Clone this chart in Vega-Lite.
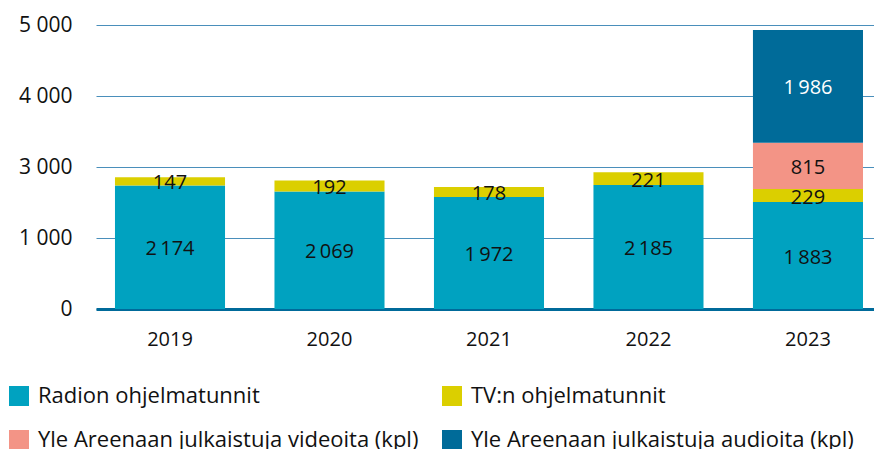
{
  "$schema": "https://vega.github.io/schema/vega-lite/v6.json",
  "width": 778,
  "height": 284,
  "autosize": {"type": "none"},
  "padding": {"left": 96, "top": 25, "right": 0, "bottom": 140},
  "background": "white",
  "config": {
    "font": "Open Sans",
    "view": {"stroke": null},
    "locale": {"number": {"decimal": ",", "thousands": "\u2009", "grouping": [3], "currency": ["", " €"]}}
  },
  "data": {
    "values": [
      {"year": "2019", "series": "Radion ohjelmatunnit", "k": 1, "value": 2174},
      {"year": "2019", "series": "TV:n ohjelmatunnit", "k": 2, "value": 147},
      {"year": "2020", "series": "Radion ohjelmatunnit", "k": 1, "value": 2069},
      {"year": "2020", "series": "TV:n ohjelmatunnit", "k": 2, "value": 192},
      {"year": "2021", "series": "Radion ohjelmatunnit", "k": 1, "value": 1972},
      {"year": "2021", "series": "TV:n ohjelmatunnit", "k": 2, "value": 178},
      {"year": "2022", "series": "Radion ohjelmatunnit", "k": 1, "value": 2185},
      {"year": "2022", "series": "TV:n ohjelmatunnit", "k": 2, "value": 221},
      {"year": "2023", "series": "Radion ohjelmatunnit", "k": 1, "value": 1883},
      {"year": "2023", "series": "TV:n ohjelmatunnit", "k": 2, "value": 229},
      {"year": "2023", "series": "Yle Areenaan julkaistuja videoita (kpl)", "k": 3, "value": 815},
      {"year": "2023", "series": "Yle Areenaan julkaistuja audioita (kpl)", "k": 4, "value": 1986}
    ]
  },
  "encoding": {
    "x": {
      "field": "year", "type": "nominal", "title": null,
      "scale": {"paddingInner": 0.31, "paddingOuter": 0.094, "align": 0.633},
      "axis": {"labelAngle": 0, "labelFontSize": 20, "labelColor": "#111", "labelPadding": 20, "ticks": false, "domainColor": "#006a9a", "domainWidth": 3}
    }
  },
  "layer": [
    {
      "mark": {"type": "bar"},
      "encoding": {
        "y": {
          "field": "value", "type": "quantitative", "stack": "zero", "title": null,
          "scale": {"domain": [0, 5000], "nice": false},
          "axis": {"values": [0, 1250, 2500, 3750, 5000], "labelExpr": "replace(format(round(datum.value / 1000) * 1000, ',d'), '\u2009', ' ')", "labelFontSize": 21, "labelColor": "#111", "labelPadding": 24, "ticks": false, "domain": false, "gridColor": "#4a8fbb", "gridWidth": 1}
        },
        "order": {"field": "k", "type": "quantitative"},
        "color": {
          "field": "series", "type": "nominal",
          "scale": {
            "domain": ["Radion ohjelmatunnit", "TV:n ohjelmatunnit", "Yle Areenaan julkaistuja videoita (kpl)", "Yle Areenaan julkaistuja audioita (kpl)"],
            "range": ["#00a2c0", "#dbcf00", "#f39486", "#006b99"]
          },
          "legend": {
            "title": null, "orient": "none", "legendX": -88, "legendY": 360, "direction": "horizontal", "columns": 2,
            "symbolType": "square", "symbolSize": 400, "symbolStrokeWidth": 0, "symbolOpacity": 1,
            "labelFontSize": 22, "labelColor": "#111", "labelOffset": 8, "labelLimit": 500,
            "columnPadding": 22, "rowPadding": 22
          }
        }
      }
    },
    {
      "transform": [
        {"stack": "value", "groupby": ["year"], "sort": [{"field": "k", "order": "ascending"}], "as": ["y0", "y1"]},
        {"calculate": "(datum.y0 + datum.y1) / 2", "as": "mid"}
      ],
      "mark": {"type": "text", "fontSize": 20, "baseline": "middle", "align": "center", "dy": 2},
      "encoding": {
        "y": {"field": "mid", "type": "quantitative"},
        "text": {"field": "value", "type": "quantitative", "format": ",d"},
        "color": {"condition": {"test": "datum.k === 4", "value": "white"}, "value": "#111"}
      }
    }
  ]
}
